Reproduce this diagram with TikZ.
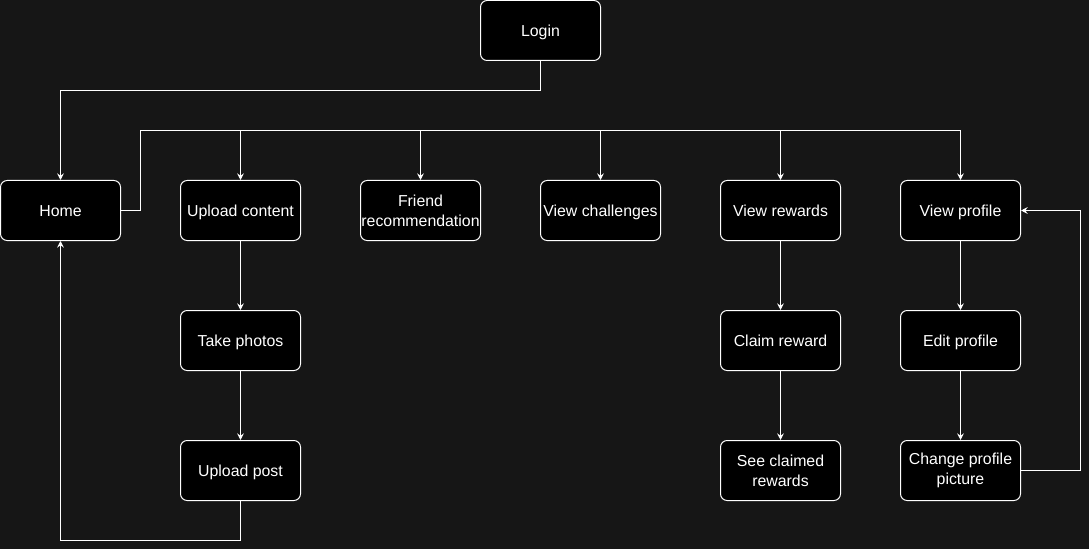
\documentclass[tikz,border=0pt]{standalone}
\usepackage{fontspec}
\setmainfont{Liberation Sans}
\usetikzlibrary{arrows.meta}
\definecolor{bg}{HTML}{161616}
\begin{document}
\begin{tikzpicture}[x=0.75pt,y=-0.75pt,
  box/.style={draw=white,fill=black,line width=0.75pt,rounded corners=5pt,
    minimum width=90pt,minimum height=45pt,text=white,align=center,
    font=\fontsize{11.9pt}{15pt}\selectfont,inner sep=0pt},
  one/.style={box,text height=8.6pt,text depth=0pt},
  conn/.style={draw=white,line width=0.75pt,-{Stealth[length=5pt,width=5pt,inset=1.8pt]}},
  plain/.style={draw=white,line width=0.75pt}]
\fill[bg] (0,0) rectangle (1089,549);
\useasboundingbox (0,0) rectangle (1089,549);
\node[one] (login) at (540.5,30.5) {Login};
\node[one] (home) at (60.5,210.5) {Home};
\node[one] (upload) at (240.5,210.5) {Upload content};
\node[box] (friend) at (420.5,210.5) {Friend\\recommendation};
\node[one] (chall) at (600.5,210.5) {View challenges};
\node[one] (rewards) at (780.5,210.5) {View rewards};
\node[one] (profile) at (960.5,210.5) {View profile};
\node[one] (photos) at (240.5,340.5) {Take photos};
\node[one] (post) at (240.5,470.5) {Upload post};
\node[one] (claim) at (780.5,340.5) {Claim reward};
\node[box] (seeclaimed) at (780.5,470.5) {See claimed\\rewards};
\node[one] (edit) at (960.5,340.5) {Edit profile};
\node[box] (change) at (960.5,470.5) {Change profile\\picture};
\coordinate (bus) at (140.5,130.5);
\draw[conn] (login.south) |- (60.5,90.5) -- (home.north);
\draw[plain] (home.east) -| (bus) -- (960.5,130.5);
\foreach \n in {upload,friend,chall,rewards,profile}
  \draw[conn] (bus -| \n.north) -- (\n.north);
\draw[conn] (upload) -- (photos);
\draw[conn] (photos) -- (post);
\draw[conn] (post.south) |- (60.5,540.5) -- (home.south);
\draw[conn] (rewards) -- (claim);
\draw[conn] (claim) -- (seeclaimed);
\draw[conn] (profile) -- (edit);
\draw[conn] (edit) -- (change);
\draw[conn] (change.east) -| (1080.5,210.5) -- (profile.east);
\end{tikzpicture}
\end{document}
